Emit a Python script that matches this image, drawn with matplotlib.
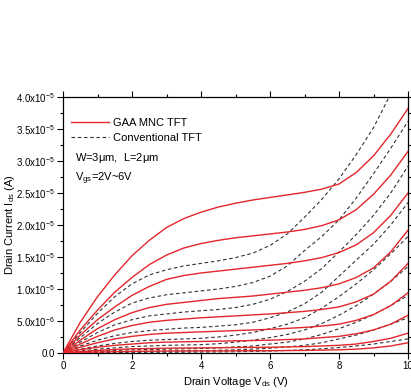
import numpy as np
import matplotlib
matplotlib.use("Agg")
import matplotlib.pyplot as plt
from matplotlib.ticker import MultipleLocator, FixedLocator, FixedFormatter

plt.rcParams['font.family'] = ['Liberation Sans', 'DejaVu Sans']
plt.rcParams['mathtext.fontset'] = 'custom'
plt.rcParams['mathtext.rm'] = 'Liberation Sans'
plt.rcParams['mathtext.it'] = 'Liberation Sans'

# drain voltage (V)
vds = np.arange(0, 10.01, 0.5)

# GAA MNC TFT, Vgs = 6V ... 2V (units of 1e-5 A)
gaa_6v0 = [0, 0.48, 0.88, 1.22, 1.52, 1.76, 1.96, 2.10, 2.20, 2.28, 2.34, 2.39, 2.43, 2.47, 2.51, 2.56, 2.64, 2.82, 3.08, 3.42, 3.82]
gaa_5v5 = [0, 0.36, 0.67, 0.95, 1.18, 1.38, 1.53, 1.64, 1.71, 1.76, 1.80, 1.83, 1.86, 1.89, 1.93, 1.99, 2.08, 2.24, 2.48, 2.78, 3.15]
gaa_5v0 = [0, 0.28, 0.52, 0.72, 0.90, 1.04, 1.15, 1.21, 1.25, 1.28, 1.31, 1.34, 1.37, 1.40, 1.44, 1.49, 1.57, 1.69, 1.88, 2.15, 2.50]
gaa_4v5 = [0, 0.20, 0.38, 0.52, 0.63, 0.71, 0.76, 0.79, 0.82, 0.85, 0.87, 0.89, 0.92, 0.95, 0.98, 1.02, 1.08, 1.18, 1.33, 1.58, 1.92]
gaa_4v0 = [0, 0.14, 0.26, 0.36, 0.43, 0.48, 0.51, 0.53, 0.55, 0.565, 0.58, 0.595, 0.61, 0.63, 0.65, 0.68, 0.72, 0.80, 0.92, 1.12, 1.40]
gaa_3v5 = [0, 0.09, 0.16, 0.22, 0.26, 0.29, 0.31, 0.32, 0.33, 0.34, 0.35, 0.36, 0.37, 0.385, 0.40, 0.42, 0.45, 0.51, 0.60, 0.74, 0.94]
gaa_3v0 = [0, 0.05, 0.09, 0.12, 0.14, 0.16, 0.17, 0.175, 0.18, 0.185, 0.19, 0.195, 0.20, 0.21, 0.22, 0.24, 0.26, 0.30, 0.36, 0.45, 0.59]
gaa_2v5 = [0, 0.02, 0.04, 0.055, 0.065, 0.07, 0.075, 0.078, 0.08, 0.082, 0.085, 0.088, 0.09, 0.095, 0.10, 0.11, 0.12, 0.14, 0.18, 0.23, 0.31]
gaa_2v0 = [0, 0.01, 0.015, 0.02, 0.025, 0.028, 0.03, 0.031, 0.032, 0.033, 0.034, 0.035, 0.036, 0.038, 0.04, 0.045, 0.05, 0.06, 0.08, 0.11, 0.16]

# conventional TFT, Vgs = 6V ... 2V (units of 1e-5 A)
conv_6v0 = [0, 0.32, 0.62, 0.88, 1.08, 1.22, 1.30, 1.36, 1.40, 1.44, 1.49, 1.56, 1.68, 1.86, 2.12, 2.40, 2.72, 3.10, 3.52, 4.05, 4.60]
conv_5v5 = [0, 0.24, 0.46, 0.64, 0.78, 0.86, 0.91, 0.94, 0.97, 1.00, 1.04, 1.10, 1.20, 1.36, 1.60, 1.82, 2.08, 2.42, 2.80, 3.20, 3.62]
conv_5v0 = [0, 0.17, 0.32, 0.44, 0.52, 0.58, 0.61, 0.64, 0.66, 0.68, 0.71, 0.76, 0.84, 0.96, 1.12, 1.32, 1.58, 1.85, 2.15, 2.50, 2.92]
conv_4v5 = [0, 0.11, 0.20, 0.27, 0.32, 0.35, 0.37, 0.39, 0.40, 0.42, 0.44, 0.48, 0.55, 0.64, 0.77, 0.95, 1.20, 1.45, 1.70, 2.00, 2.35]
conv_4v0 = [0, 0.06, 0.11, 0.15, 0.18, 0.20, 0.21, 0.22, 0.23, 0.25, 0.28, 0.32, 0.38, 0.45, 0.55, 0.70, 0.88, 1.08, 1.30, 1.55, 1.82]
conv_3v5 = [0, 0.03, 0.06, 0.08, 0.10, 0.11, 0.12, 0.125, 0.13, 0.145, 0.17, 0.20, 0.24, 0.29, 0.36, 0.46, 0.59, 0.74, 0.92, 1.12, 1.35]
conv_3v0 = [0, 0.015, 0.03, 0.04, 0.05, 0.055, 0.06, 0.065, 0.07, 0.08, 0.095, 0.11, 0.14, 0.17, 0.22, 0.29, 0.38, 0.48, 0.60, 0.74, 0.90]
conv_2v5 = [0, 0.008, 0.015, 0.02, 0.025, 0.028, 0.03, 0.033, 0.036, 0.042, 0.05, 0.06, 0.075, 0.095, 0.12, 0.16, 0.22, 0.28, 0.36, 0.45, 0.55]
conv_2v0 = [0, 0.003, 0.006, 0.008, 0.01, 0.011, 0.012, 0.013, 0.015, 0.017, 0.02, 0.025, 0.03, 0.04, 0.05, 0.065, 0.085, 0.11, 0.14, 0.18, 0.22]

gaa = [gaa_6v0, gaa_5v5, gaa_5v0, gaa_4v5, gaa_4v0, gaa_3v5, gaa_3v0, gaa_2v5, gaa_2v0]
conv = [conv_6v0, conv_5v5, conv_5v0, conv_4v5, conv_4v0, conv_3v5, conv_3v0, conv_2v5, conv_2v0]

y_ticks = [0, 0.5e-5, 1.0e-5, 1.5e-5, 2.0e-5, 2.5e-5, 3.0e-5, 3.5e-5, 4.0e-5]
y_ticklabels = ['0.0', r'5.0x10$^{-6}$', r'1.0x10$^{-5}$', r'1.5x10$^{-5}$', r'2.0x10$^{-5}$',
                r'2.5x10$^{-5}$', r'3.0x10$^{-5}$', r'3.5x10$^{-5}$', r'4.0x10$^{-5}$']

red = '#e3262b'

fig = plt.figure(figsize=(4.11, 3.92), dpi=100)
ax = fig.add_axes([0.1533, 0.0995, 0.8394, 0.6531])

for i, cur in enumerate(conv):
    ax.plot(vds, np.array(cur) * 1e-5, color='#333333', lw=0.8, ls=(0, (3.2, 2.4)),
            label='Conventional TFT' if i == 0 else None, zorder=2)
for i, cur in enumerate(gaa):
    ax.plot(vds, np.array(cur) * 1e-5, color=red, lw=1.0,
            label='GAA MNC TFT' if i == 0 else None, zorder=3)

ax.set_xlim(0, 10)
ax.set_ylim(0, 4.0e-5)
ax.xaxis.set_major_locator(MultipleLocator(2))
ax.xaxis.set_minor_locator(MultipleLocator(1))
ax.yaxis.set_major_locator(FixedLocator(y_ticks))
ax.yaxis.set_major_formatter(FixedFormatter(y_ticklabels))
ax.yaxis.set_minor_locator(MultipleLocator(0.25e-5))
ax.tick_params(which='both', direction='out', top=True, right=True, labelsize=7, pad=2)
ax.tick_params(which='major', length=4, width=0.8)
ax.tick_params(which='minor', length=2, width=0.8)
for s in ax.spines.values():
    s.set_linewidth(0.9)

ax.set_xlabel(r'Drain Voltage V$_{\rm ds}$ (V)', fontsize=8, labelpad=3)
ax.set_ylabel(r'Drain Current I$_{\rm ds}$ (A)', fontsize=8)
ax.yaxis.set_label_coords(-0.133, 0.5)

h, l = ax.get_legend_handles_labels()
ax.legend(h[::-1], l[::-1], loc='upper left', bbox_to_anchor=(0.0, 0.95), frameon=False,
          fontsize=8, handlelength=3.4, handletextpad=0.4, labelspacing=0.45, borderaxespad=0.3)
ax.text(0.035, 0.76, r'W=3$\mu$m,  L=2$\mu$m', transform=ax.transAxes, fontsize=8, va='center')
ax.text(0.035, 0.68, r'V$_{\rm gs}$=2V~6V', transform=ax.transAxes, fontsize=8, va='center')

fig.savefig('out.png', dpi=100)
